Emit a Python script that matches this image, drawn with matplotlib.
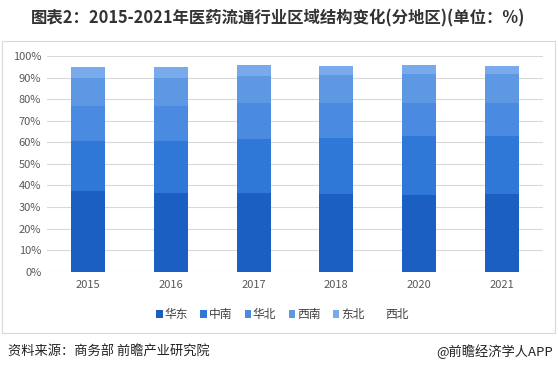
import numpy as np
import matplotlib.pyplot as plt
from matplotlib.patches import Rectangle

plt.rcParams['font.family'] = ['Noto Sans CJK SC', 'DejaVu Sans']

# data (share of each region, %)
years = ["2015", "2016", "2017", "2018", "2020", "2021"]
regions = ["华东", "中南", "华北", "西南", "东北", "西北"]
huadong = [37.4, 36.6, 36.6, 36.0, 35.6, 36.0]
zhongnan = [23.2, 24.0, 24.9, 26.1, 27.4, 26.9]
huabei = [16.4, 16.4, 16.5, 15.9, 15.0, 15.1]
xinan = [13.0, 13.0, 12.7, 13.2, 13.5, 13.5]
dongbei = [5.0, 5.0, 5.3, 4.2, 4.5, 3.9]
xibei = [5.0, 5.0, 4.0, 4.6, 4.0, 4.6]

series = [huadong, zhongnan, huabei, xinan, dongbei, xibei]
colors = ["#1c5fc2", "#2f78d8", "#4a8ae0", "#5e97e2", "#78aaec", "none"]

fig = plt.figure(figsize=(5.58, 3.73), dpi=100)
ax = fig.add_axes([0.084, 0.2716, 0.889, 0.5784])

x = np.arange(len(years))
bottom = np.zeros(len(years))
handles = []
for name, vals, c in zip(regions, series, colors):
    vals = np.array(vals) / 100
    b = ax.bar(x, vals, 0.41, bottom=bottom, color=c, label=name, zorder=3)
    bottom += vals
    handles.append(b)

ax.set_xlim(-0.5, len(years) - 0.5)
ax.set_ylim(0, 1)
ax.set_yticks(np.arange(0, 1.01, 0.1))
ax.set_yticklabels([f"{int(round(v * 100))}%" for v in np.arange(0, 1.01, 0.1)])
ax.set_xticks(x)
ax.set_xticklabels(years)
ax.tick_params(length=0, labelsize=8, colors="#595959")
ax.tick_params(axis="y", pad=4)
ax.tick_params(axis="x", pad=6)
ax.grid(axis="y", color="#d9d9d9", linewidth=0.8, zorder=0)
for s in ax.spines.values():
    s.set_visible(False)

leg = ax.legend(handles=handles, loc="upper center", bbox_to_anchor=(0.475, -0.12),
                ncol=6, frameon=False, fontsize=8.5, handlelength=0.55, handleheight=0.55,
                handletextpad=0.15, columnspacing=1.05, labelcolor="#404040")

# chart border
fig.add_artist(Rectangle((2 / 558, 1 - 333 / 373), 553 / 558, 292 / 373,
                         transform=fig.transFigure, fill=False,
                         edgecolor="#d9d9d9", linewidth=0.8))

fig.text(0.498, 1 - 18 / 373, "图表2：2015-2021年医药流通行业区域结构变化(分地区)(单位：%)",
         ha="center", va="center", fontsize=11.8, fontweight="bold", color="#333333")
fig.text(8 / 558, 1 - 352 / 373, "资料来源：商务部 前瞻产业研究院",
         ha="left", va="center", fontsize=9.5, color="#222222")
fig.text(553 / 558, 1 - 352 / 373, "@前瞻经济学人APP",
         ha="right", va="center", fontsize=9.5, color="#222222")

fig.savefig("out.png", dpi=100)
